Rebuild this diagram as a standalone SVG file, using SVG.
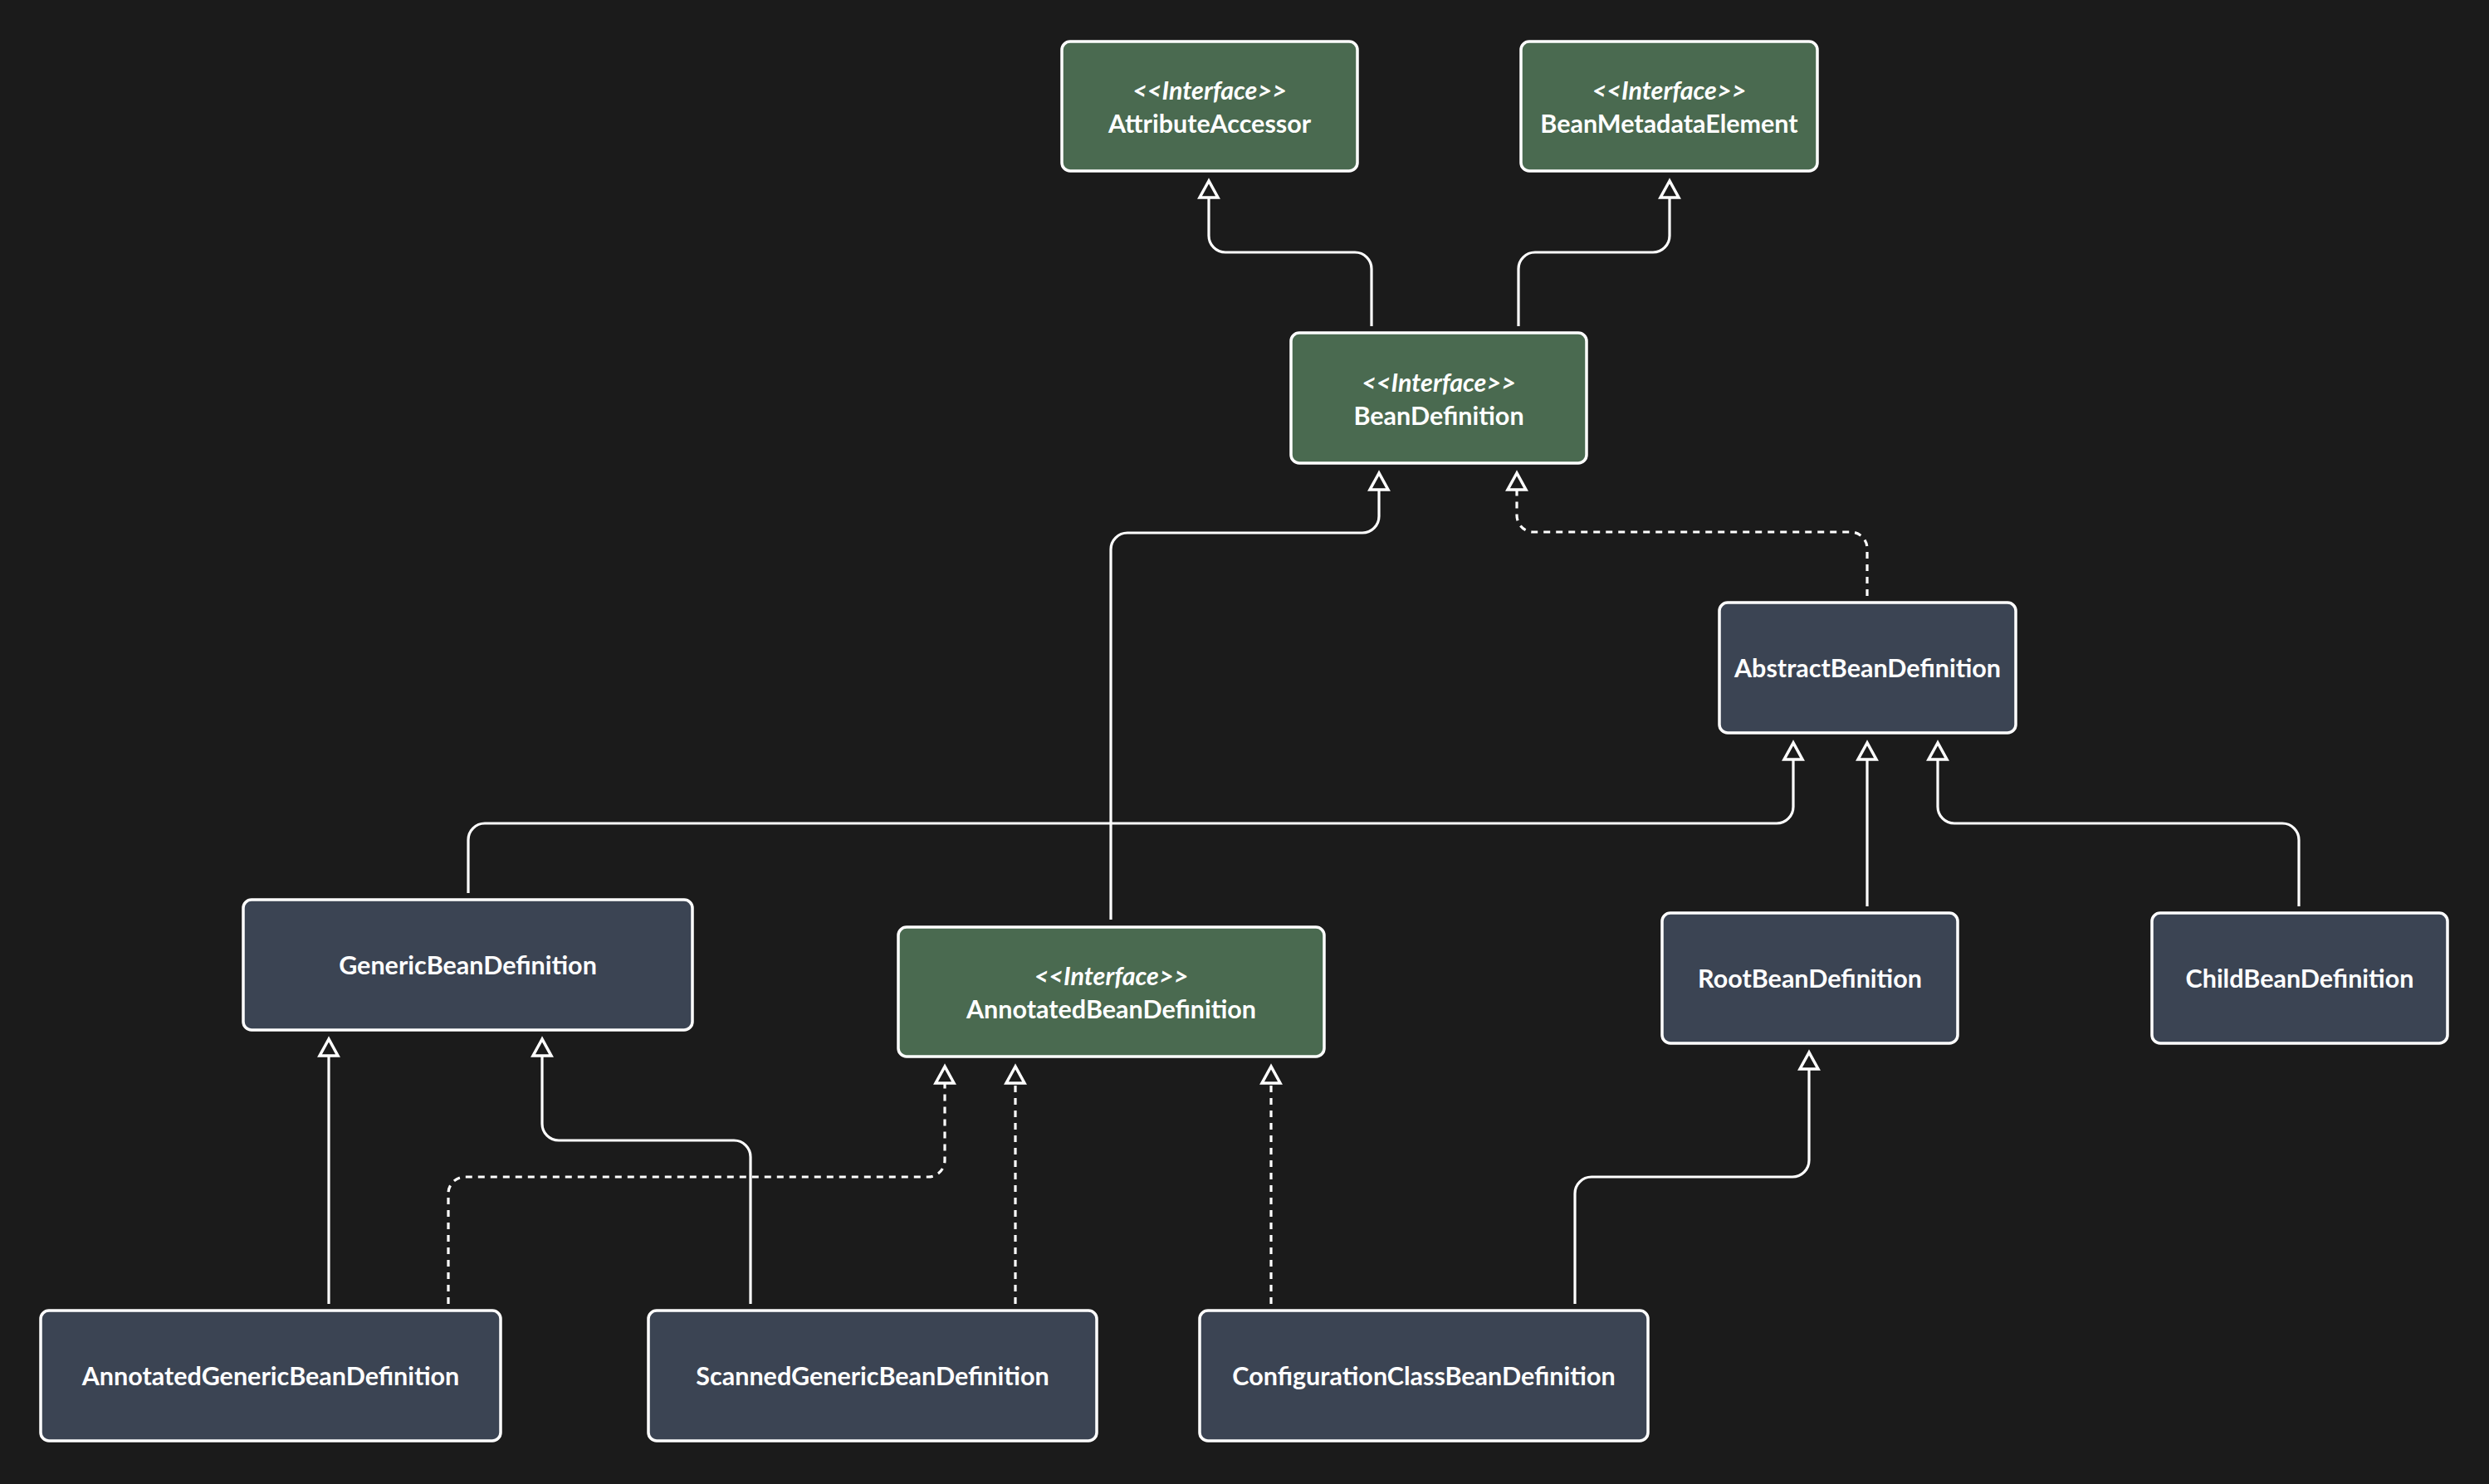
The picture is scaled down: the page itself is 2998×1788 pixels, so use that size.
<svg xmlns="http://www.w3.org/2000/svg" width="2998" height="1788" viewBox="0 0 2998 1788">
<style>
.box{stroke:#ffffff;stroke-width:3.5}
.iface{fill:#4a6a50}
.cls{fill:#3b4453}
.t{font-family:Lato,"Noto Sans","Liberation Sans",sans-serif;font-weight:700;font-size:30.5px;fill:#ffffff;text-anchor:middle}
.st{font-style:italic}
.e{fill:none;stroke:#ffffff;stroke-width:3.2;marker-end:url(#tri)}
.d{stroke-dasharray:8 7}
</style>
<defs>
<marker id="tri" markerUnits="userSpaceOnUse" viewBox="-26 -16 32 32" markerWidth="32" markerHeight="32" refX="0" refY="0" orient="auto" overflow="visible">
<path d="M0,0 L-20,-11 L-20,11 Z" fill="#1b1b1b" stroke="#ffffff" stroke-width="3.5" stroke-dasharray="none"/>
</marker>
</defs>
<rect width="2998" height="1788" fill="#1b1b1b"/>
<g id="connectors">
<path class="e" d="M1652,393 V324 A20,20 0 0 0 1632,304 H1476 A20,20 0 0 1 1456,284 V218"/>
<path class="e" d="M1829,393 V324 A20,20 0 0 1 1849,304 H1991 A20,20 0 0 0 2011,284 V218"/>
<path class="e" d="M1338,1108 V662 A20,20 0 0 1 1358,642 H1641 A20,20 0 0 0 1661,622 V570"/>
<path class="e d" d="M2249,718 V661 A20,20 0 0 0 2229,641 H1847 A20,20 0 0 1 1827,621 V570"/>
<path class="e" d="M564,1076 V1012 A20,20 0 0 1 584,992 H2140 A20,20 0 0 0 2160,972 V895"/>
<path class="e" d="M2249,1092 V895"/>
<path class="e" d="M2769,1092 V1012 A20,20 0 0 0 2749,992 H2354 A20,20 0 0 1 2334,972 V895"/>
<path class="e" d="M396,1571 V1252"/>
<path class="e" d="M904,1571 V1394 A20,20 0 0 0 884,1374 H673 A20,20 0 0 1 653,1354 V1252"/>
<path class="e d" d="M540,1571 V1438 A20,20 0 0 1 560,1418 H1118 A20,20 0 0 0 1138,1398 V1285"/>
<path class="e d" d="M1223,1571 V1285"/>
<path class="e d" d="M1531,1571 V1285"/>
<path class="e" d="M1897,1571 V1438 A20,20 0 0 1 1917,1418 H2159 A20,20 0 0 0 2179,1398 V1268"/>
</g>
<g id="AttributeAccessor">
<rect class="box iface" x="1279" y="50" width="356" height="156" rx="10"/>
<text class="t st" x="1457" y="120">&lt;&lt;Interface&gt;&gt;</text>
<text class="t" x="1457" y="160">AttributeAccessor</text>
</g>
<g id="BeanMetadataElement">
<rect class="box iface" x="1832" y="50" width="357" height="156" rx="10"/>
<text class="t st" x="2010.5" y="120">&lt;&lt;Interface&gt;&gt;</text>
<text class="t" x="2010.5" y="160">BeanMetadataElement</text>
</g>
<g id="BeanDefinition">
<rect class="box iface" x="1555" y="401" width="356" height="157" rx="10"/>
<text class="t st" x="1733" y="472">&lt;&lt;Interface&gt;&gt;</text>
<text class="t" x="1733" y="512">BeanDefinition</text>
</g>
<g id="AbstractBeanDefinition">
<rect class="box cls" x="2071" y="726" width="357" height="157" rx="10"/>
<text class="t" x="2249.5" y="816">AbstractBeanDefinition</text>
</g>
<g id="GenericBeanDefinition">
<rect class="box cls" x="293" y="1084" width="541" height="157" rx="10"/>
<text class="t" x="563.5" y="1174">GenericBeanDefinition</text>
</g>
<g id="AnnotatedBeanDefinition">
<rect class="box iface" x="1082" y="1117" width="513" height="156" rx="10"/>
<text class="t st" x="1338.5" y="1187">&lt;&lt;Interface&gt;&gt;</text>
<text class="t" x="1338.5" y="1227">AnnotatedBeanDefinition</text>
</g>
<g id="RootBeanDefinition">
<rect class="box cls" x="2002" y="1100" width="356" height="157" rx="10"/>
<text class="t" x="2180" y="1190">RootBeanDefinition</text>
</g>
<g id="ChildBeanDefinition">
<rect class="box cls" x="2592" y="1100" width="356" height="157" rx="10"/>
<text class="t" x="2770" y="1190">ChildBeanDefinition</text>
</g>
<g id="AnnotatedGenericBeanDefinition">
<rect class="box cls" x="49" y="1579" width="554" height="157" rx="10"/>
<text class="t" x="326" y="1669">AnnotatedGenericBeanDefinition</text>
</g>
<g id="ScannedGenericBeanDefinition">
<rect class="box cls" x="781" y="1579" width="540" height="157" rx="10"/>
<text class="t" x="1051" y="1669">ScannedGenericBeanDefinition</text>
</g>
<g id="ConfigurationClassBeanDefinition">
<rect class="box cls" x="1445" y="1579" width="540" height="157" rx="10"/>
<text class="t" x="1715" y="1669">ConfigurationClassBeanDefinition</text>
</g>
</svg>
